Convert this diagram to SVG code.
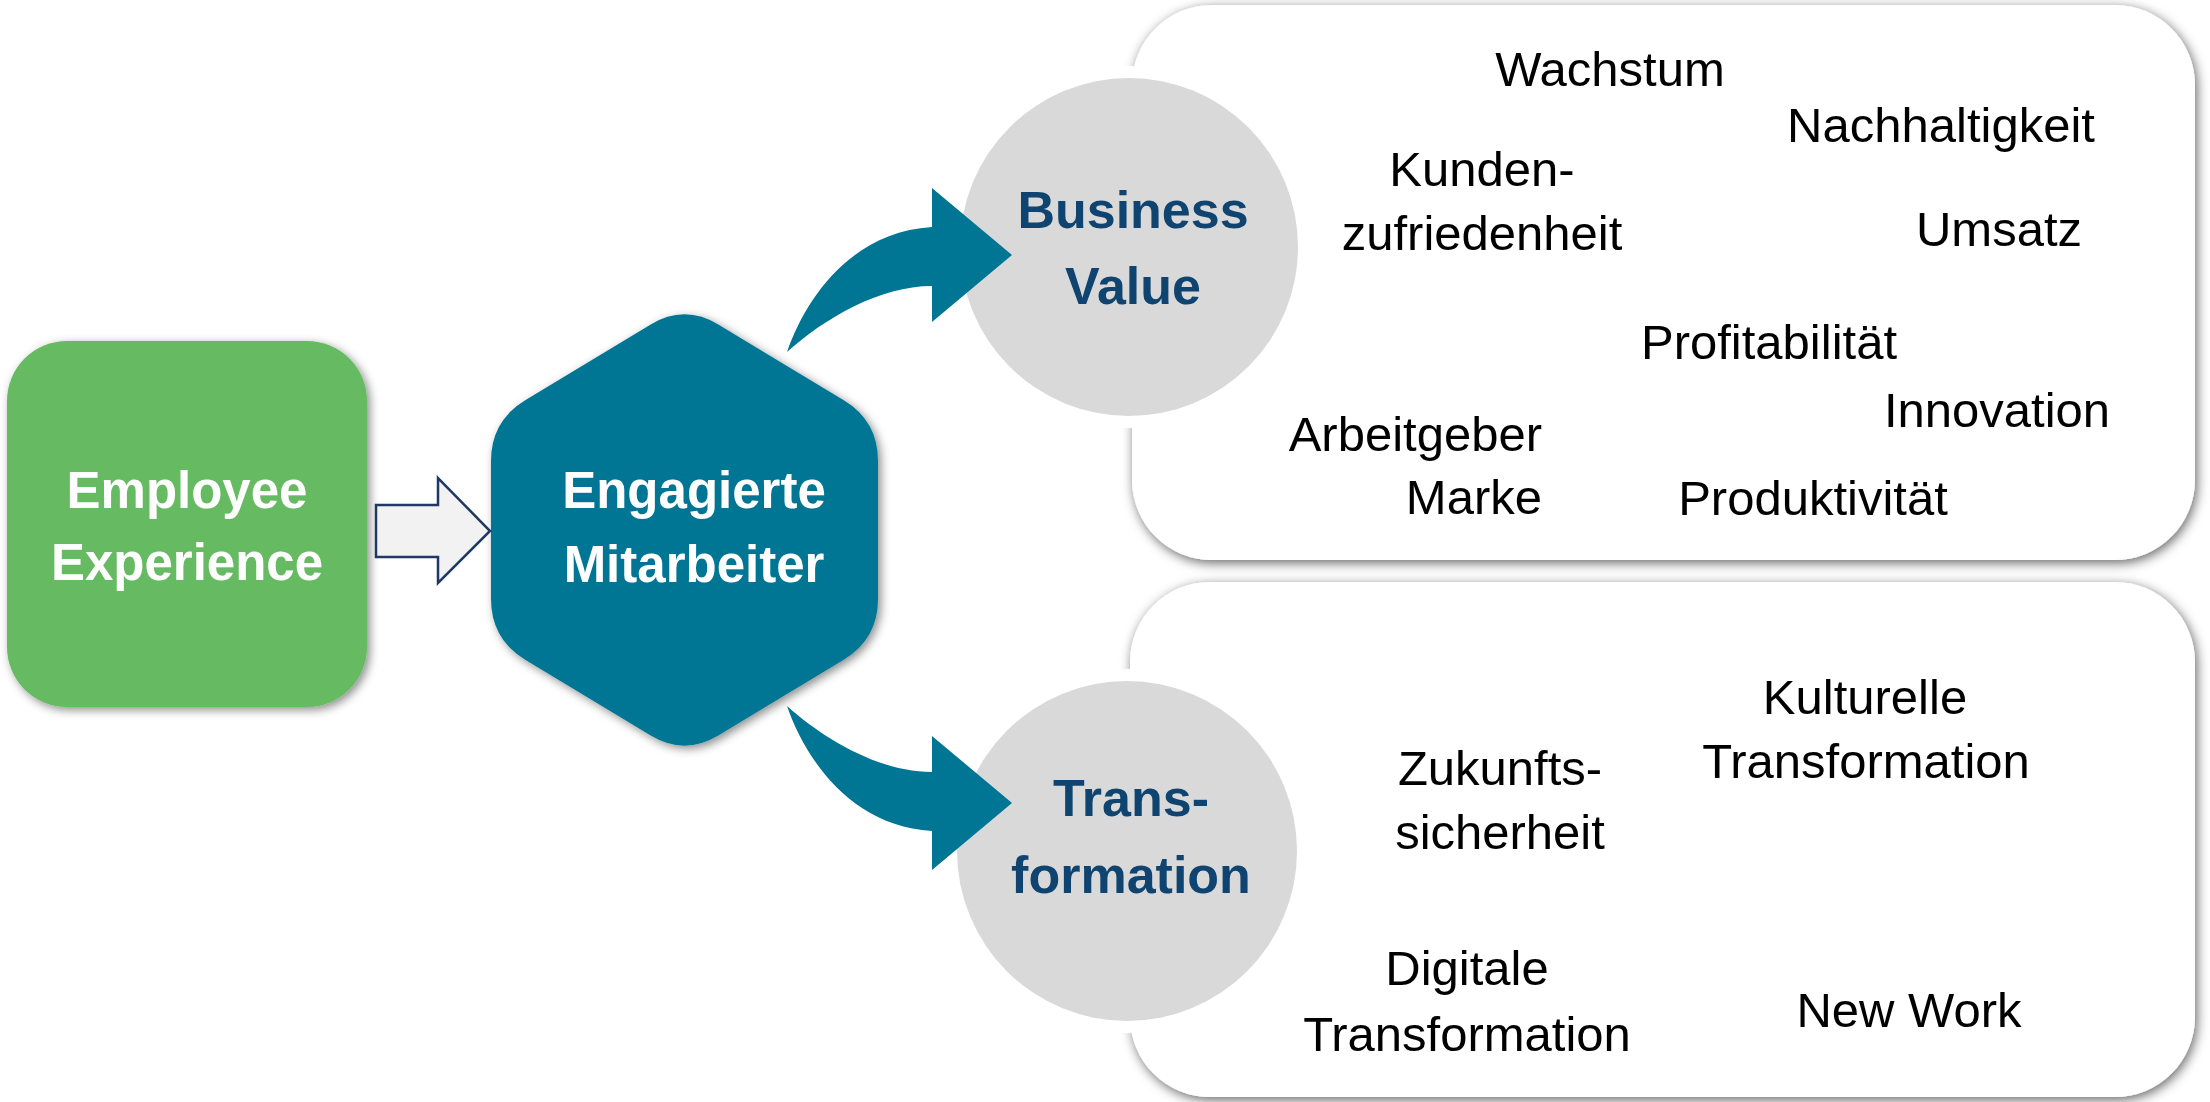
<svg xmlns="http://www.w3.org/2000/svg" width="2210" height="1102" viewBox="0 0 2210 1102">
<defs>
<filter id="sh" x="-10%" y="-10%" width="120%" height="120%">
<feDropShadow dx="3" dy="3" stdDeviation="5" flood-color="#000" flood-opacity="0.45"/>
</filter>
<filter id="psh" x="-5%" y="-5%" width="110%" height="112%">
<feDropShadow dx="2" dy="3" stdDeviation="6" flood-color="#000" flood-opacity="0.6"/>
</filter>
<style>
.w{font-family:"Liberation Sans",Arial,sans-serif;font-weight:bold;font-size:51px;fill:#fff;text-anchor:middle}
.n{font-family:"Liberation Sans",Arial,sans-serif;font-weight:bold;font-size:52px;fill:#0F4470;text-anchor:middle}
.t{font-family:"Liberation Sans",Arial,sans-serif;font-size:49px;fill:#000;text-anchor:middle}
.panel{fill:#fff;filter:url(#psh)}
.halo{fill:#fff}
.circ{fill:#D9D9D9}
.arr{fill:#007594}
</style>
</defs>
<rect width="2210" height="1102" fill="#fff"/>

<g id="panel-business">
<rect class="panel" x="1132" y="5" width="1063" height="555" rx="80"/>
<text class="t" x="1610" y="86">Wachstum</text>
<text class="t" x="1941" y="142">Nachhaltigkeit</text>
<text class="t" x="1482" y="186">Kunden-</text>
<text class="t" x="1482" y="250">zufriedenheit</text>
<text class="t" x="1999" y="246">Umsatz</text>
<text class="t" x="1769" y="359">Profitabilität</text>
<text class="t" x="1997" y="427">Innovation</text>
<text class="t" x="1542" y="451" style="text-anchor:end">Arbeitgeber</text>
<text class="t" x="1542" y="514" style="text-anchor:end">Marke</text>
<text class="t" x="1813" y="515">Produktivität</text>
</g>

<g id="panel-transformation">
<rect class="panel" x="1130" y="582" width="1065" height="515" rx="80"/>
<text class="t" x="1865" y="714">Kulturelle</text>
<text class="t" x="1866" y="778">Transformation</text>
<text class="t" x="1500" y="785">Zukunfts-</text>
<text class="t" x="1500" y="849">sicherheit</text>
<text class="t" x="1467" y="985">Digitale</text>
<text class="t" x="1467" y="1051">Transformation</text>
<text class="t" x="1909" y="1027">New Work</text>
</g>

<g id="employee-experience">
<rect x="7" y="341" width="360" height="366" rx="60" fill="#66BB62" filter="url(#sh)"/>
<text class="w" x="187" y="508">Employee</text>
<text class="w" x="187" y="580">Experience</text>
</g>

<g id="engagierte-mitarbeiter">
<path d="M 650.3,324.7 Q 684.5,304 718.7,324.7 L 843.8,400.3 Q 878,421 878,461 L 878,599 Q 878,639 843.8,659.7 L 718.7,735.3 Q 684.5,756 650.3,735.3 L 525.2,659.7 Q 491,639 491,599 L 491,461 Q 491,421 525.2,400.3 Z" fill="#007594" filter="url(#sh)"/>
<text class="w" x="694" y="508">Engagierte</text>
<text class="w" x="694" y="582">Mitarbeiter</text>
</g>

<g id="business-value">
<circle class="halo" cx="1129" cy="247" r="181"/>
<circle class="circ" cx="1129" cy="247" r="169"/>
<text class="n" x="1133" y="228">Business</text>
<text class="n" x="1133" y="304">Value</text>
</g>

<g id="transformation">
<circle class="halo" cx="1127" cy="851" r="182"/>
<circle class="circ" cx="1127" cy="851" r="170"/>
<text class="n" x="1131" y="816">Trans-</text>
<text class="n" x="1131" y="893">formation</text>
</g>

<g id="connectors">
<path d="M 376,505 L 438,505 L 438,478 L 490,531 L 438,583 L 438,557 L 376,557 Z" fill="#F2F2F2" stroke="#1F3864" stroke-width="2.5" stroke-linejoin="miter"/>
<path class="arr" d="M 787,352 C 805,300 850,232 932,227 L 932,188 L 1012,255 L 932,322 L 932,286 C 880,286 825,318 787,352 Z"/>
<path class="arr" d="M 787,706 C 805,758 850,826 932,831 L 932,870 L 1012,803 L 932,736 L 932,772 C 880,772 825,740 787,706 Z"/>
</g>
</svg>
